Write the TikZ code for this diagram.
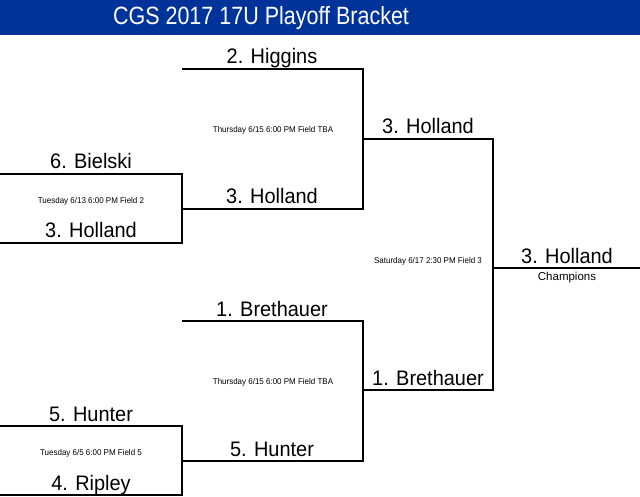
\documentclass[tikz,border=0pt]{standalone}
\usepackage{fontspec}
\setmainfont{Liberation Sans}
\newfontfamily\narrowfont{Liberation Sans}[FakeStretch=0.86]
\newfontfamily\slimfont{Liberation Sans}[FakeStretch=0.95]
\usetikzlibrary{positioning}
\definecolor{bannerblue}{RGB}{0,51,153}

\begin{document}
\begin{tikzpicture}[x=1pt, y=-1pt,
  bracket/.style={line width=2pt, black},
  team/.style={font=\slimfont\fontsize{21}{25}\selectfont, anchor=base, inner sep=0pt},
  info/.style={font=\slimfont\fontsize{8.4}{10}\selectfont, inner sep=0pt},
  banner/.style={font=\narrowfont\fontsize{25}{30}\selectfont, text=white,
                 anchor=base, inner sep=0pt}
]
\useasboundingbox (0,0) rectangle (640,497);

% title banner
\fill[bannerblue] (0,0) rectangle (640,35);
\node[banner] (title) at (261,25) {CGS 2017 17U Playoff Bracket};

% round 1 slots
\coordinate (bielskiL) at (0,174);   \coordinate (bielskiR) at (182,174);
\coordinate (hollandL) at (0,243);   \coordinate (hollandR) at (182,243);
\coordinate (hunterL)  at (0,426);   \coordinate (hunterR)  at (182,426);
\coordinate (ripleyL)  at (0,495);   \coordinate (ripleyR)  at (182,495);

% round 2 slots
\coordinate (higginsL) at (182,69.5); \coordinate (higginsR) at (363,69.5);
\coordinate (semiAL)   at (182,209);  \coordinate (semiAR)   at (363,209);
\coordinate (brethL)   at (182,321);  \coordinate (brethR)   at (363,321);
\coordinate (semiBL)   at (182,461);  \coordinate (semiBR)   at (363,461);

% semifinal and final slots
\coordinate (finAL) at (363,139); \coordinate (finAR) at (493,139);
\coordinate (finBL) at (363,390); \coordinate (finBR) at (493,390);
\coordinate (champL) at (493,268); \coordinate (champR) at (640,268);

\draw[bracket] (bielskiL) -- (bielskiR) -- (hollandR) -- (hollandL);
\draw[bracket] (hunterL) -- (hunterR) -- (ripleyR) -- (ripleyL);
\draw[bracket] (higginsL) -- (higginsR) -- (semiAR) -- (semiAL);
\draw[bracket] (brethL) -- (brethR) -- (semiBR) -- (semiBL);
\draw[bracket] (finAL) -- (finAR) -- (finBR) -- (finBL);
\draw[bracket] (champL) -- (champR);

% team names
\node[team] (bielski)  at (91,169)   {6. Bielski};
\node[team] (holland1) at (91,238)   {3. Holland};
\node[team] (hunter1)  at (91,421)   {5. Hunter};
\node[team] (ripley)   at (91,490)   {4. Ripley};
\node[team] (higgins)  at (272,64)   {2. Higgins};
\node[team] (holland2) at (272,204)  {3. Holland};
\node[team] (breth1)   at (272,316)  {1. Brethauer};
\node[team] (hunter2)  at (272,456)  {5. Hunter};
\node[team] (holland3) at (428,134)  {3. Holland};
\node[team] (breth2)   at (428,385)  {1. Brethauer};
\node[team] (champ)    at (567,263)  {3. Holland};

% game info
\node[info] (g1) at (91,201)  {Tuesday 6/13 6:00 PM Field 2};
\node[info] (g2) at (91,453)  {Tuesday 6/5 6:00 PM Field 5};
\node[info] (g3) at (273,130) {Thursday 6/15 6:00 PM Field TBA};
\node[info] (g4) at (273,382) {Thursday 6/15 6:00 PM Field TBA};
\node[info] (g5) at (428,261) {Saturday 6/17 2:30 PM Field 3};
\node[info, font=\fontsize{11.5}{14}\selectfont] (champs) at (567,278) {Champions};

\end{tikzpicture}
\end{document}
